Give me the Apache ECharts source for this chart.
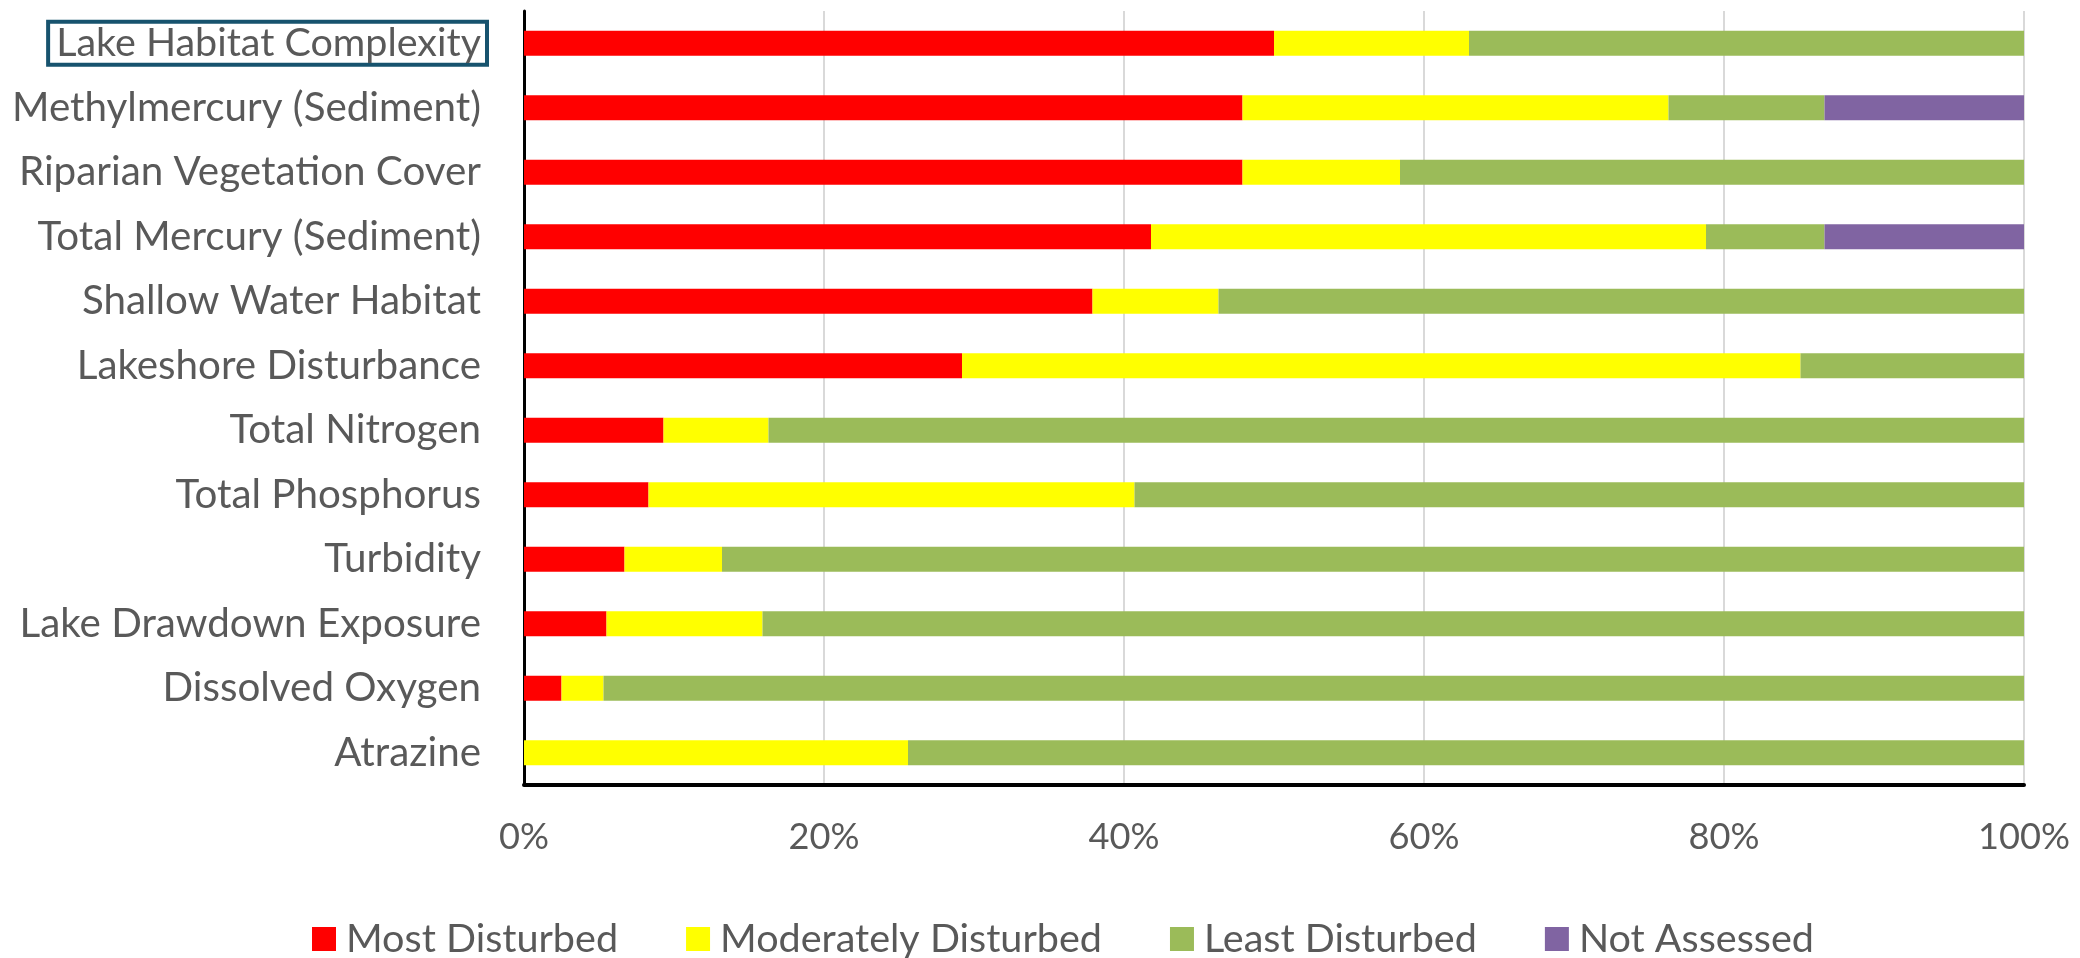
<!DOCTYPE html>
<html>
<head>
<meta charset="utf-8">
<script src="https://cdn.jsdelivr.net/npm/echarts@6/dist/echarts.min.js"></script>
<style>
  html, body { margin: 0; padding: 0; background: #ffffff; }
  #chart { width: 2080px; height: 958px; }
</style>
</head>
<body>
<div id="chart"></div>
<script>
// Indicators, listed top to bottom
const categories = [
  'Lake Habitat Complexity',
  'Methylmercury (Sediment)',
  'Riparian Vegetation Cover',
  'Total Mercury (Sediment)',
  'Shallow Water Habitat',
  'Lakeshore Disturbance',
  'Total Nitrogen',
  'Total Phosphorus',
  'Turbidity',
  'Lake Drawdown Exposure',
  'Dissolved Oxygen',
  'Atrazine'
];

// Percent of lakes in each condition class
const mostDisturbed       = [50.0, 47.9, 47.9, 41.8, 37.9, 29.2, 9.3, 8.3, 6.7, 5.5, 2.5, 0.0];
const moderatelyDisturbed = [13.0, 28.4, 10.5, 37.0, 8.4, 55.9, 7.0, 32.4, 6.5, 10.4, 2.8, 25.6];
const leastDisturbed      = [37.0, 10.4, 41.6, 7.9, 53.7, 14.9, 83.7, 59.3, 86.8, 84.1, 94.7, 74.4];
const notAssessed         = [0, 13.3, 0, 13.3, 0, 0, 0, 0, 0, 0, 0, 0];

const tickValues = [0, 20, 40, 60, 80, 100];
const seriesNames = ['Most Disturbed', 'Moderately Disturbed', 'Least Disturbed', 'Not Assessed'];

const FONT = 'Lato';
const TEXT_COLOR = '#595959';

// Size a font so that a sample string spans a given width
const measureCtx = document.createElement('canvas').getContext('2d');
function fitSize(sample, width) {
  measureCtx.font = '100px ' + FONT;
  return 100 * width / measureCtx.measureText(sample).width;
}
const catSize = fitSize('Methylmercury (Sediment)', 469);
const boxSize = fitSize(categories[0], 425);
const tickSize = fitSize('100%', 92);
const legendSize = fitSize('Moderately Disturbed', 382);

const colors = ['#ff0000', '#ffff00', '#9bbb59', '#8064a2'];
const values = [mostDisturbed, moderatelyDisturbed, leastDisturbed, notAssessed];

const chart = echarts.init(document.getElementById('chart'), null, { renderer: 'canvas' });

chart.setOption({
  animation: false,
  backgroundColor: '#ffffff',
  textStyle: { fontFamily: FONT, color: TEXT_COLOR },
  grid: { left: 524, right: 56, top: 11, bottom: 173, containLabel: false },
  legend: {
    data: seriesNames,
    left: 307,
    top: 914,
    itemWidth: 24,
    itemHeight: 24,
    itemGap: 68,
    icon: 'rect',
    textStyle: { fontFamily: FONT, fontSize: legendSize, color: TEXT_COLOR, padding: [0, 0, 0, 5] }
  },
  xAxis: {
    type: 'value',
    min: tickValues[0],
    max: tickValues[tickValues.length - 1],
    interval: tickValues[1] - tickValues[0],
    axisLine: { show: true, lineStyle: { color: '#000000', width: 4 } },
    axisTick: { show: false },
    axisLabel: {
      formatter: '{value}%',
      fontFamily: FONT,
      fontSize: tickSize,
      color: TEXT_COLOR,
      margin: 34
    },
    splitLine: { show: true, lineStyle: { color: '#d9d9d9', width: 2 } }
  },
  yAxis: {
    type: 'category',
    inverse: true,
    data: categories,
    axisLine: { show: true, lineStyle: { color: '#000000', width: 3 } },
    axisTick: { show: false },
    splitLine: { show: false },
    axisLabel: {
      margin: 37,
      fontFamily: FONT,
      fontSize: catSize,
      color: TEXT_COLOR,
      formatter: function (value, index) {
        return index === 0 ? '{box|' + value + '}' : '{plain|' + value + '}';
      },
      rich: {
        box: {
          fontFamily: FONT,
          fontSize: boxSize,
          color: TEXT_COLOR,
          lineHeight: catSize * 1.12,
          borderColor: '#17536e',
          borderWidth: 4,
          padding: [2, 6, 2, 8]
        },
        plain: {
          fontFamily: FONT,
          fontSize: catSize,
          color: TEXT_COLOR,
          padding: [0, 6, 0, 0]
        }
      }
    }
  },
  series: seriesNames.map(function (name, i) {
    return {
      name: name,
      type: 'bar',
      stack: 'total',
      barWidth: '39%',
      itemStyle: { color: colors[i] },
      data: values[i]
    };
  })
});
</script>
</body>
</html>
